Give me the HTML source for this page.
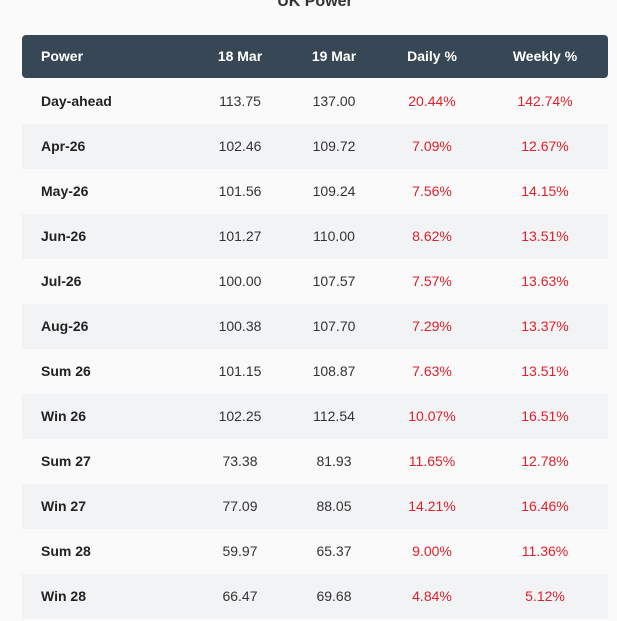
<!DOCTYPE html>
<html><head><meta charset="utf-8"><style>
html,body{margin:0;padding:0;width:617px;height:621px;overflow:hidden;background:#fafafa;font-family:"Liberation Sans",sans-serif;}
#title{position:absolute;left:0;width:630px;top:-7px;text-align:center;font-size:16px;font-weight:bold;color:#333;}
.row{position:absolute;left:22px;width:586px;height:45px;}
.hdr{top:35px;height:43px;background:#374755;border-radius:4px;color:#fff;font-weight:bold;}
.c{position:absolute;top:0;line-height:inherit;font-size:14px;text-align:center;width:120px;margin-left:-60px;}
.lbl{left:19px;margin-left:0;text-align:left;font-weight:bold;color:#222;}
.hdr .lbl{color:#fff;}
.num{color:#333;}
.pct{color:#e0202a;}
.gray{background:#f2f3f5;}
</style></head><body>
<div id="title">UK Power</div>
<div class="row hdr" style="line-height:43px">
<div class="c lbl">Power</div>
<div class="c" style="left:218px">18 Mar</div>
<div class="c" style="left:312px">19 Mar</div>
<div class="c" style="left:410px">Daily %</div>
<div class="c" style="left:523px">Weekly %</div>
</div>
<div id="rows"></div>
<script>
const labels=["Day-ahead","Apr-26","May-26","Jun-26","Jul-26","Aug-26","Sum 26","Win 26","Sum 27","Win 27","Sum 28","Win 28"];
const mar18=["113.75","102.46","101.56","101.27","100.00","100.38","101.15","102.25","73.38","77.09","59.97","66.47"];
const mar19=["137.00","109.72","109.24","110.00","107.57","107.70","108.87","112.54","81.93","88.05","65.37","69.68"];
const daily=["20.44%","7.09%","7.56%","8.62%","7.57%","7.29%","7.63%","10.07%","11.65%","14.21%","9.00%","4.84%"];
const weekly=["142.74%","12.67%","14.15%","13.51%","13.63%","13.37%","13.51%","16.51%","12.78%","16.46%","11.36%","5.12%"];
const root=document.getElementById('rows');
labels.forEach((l,i)=>{
  const r=document.createElement('div');
  r.className='row'+(i%2?' gray':'');
  r.style.top=(79+i*45)+'px';r.style.lineHeight='45px';
  
  
  const cells=[[l,'c lbl',null,'label'],[mar18[i],'c num',218,'18-mar'],[mar19[i],'c num',312,'19-mar'],[daily[i],'c pct',410,'daily'],[weekly[i],'c pct',523,'weekly']];
  cells.forEach(c=>{
    const d=document.createElement('div');
    d.className=c[1];d.textContent=c[0];
    if(c[2]!==null)d.style.left=c[2]+'px';
    
    
    r.appendChild(d);
  });
  root.appendChild(r);
});
</script>
</body></html>
